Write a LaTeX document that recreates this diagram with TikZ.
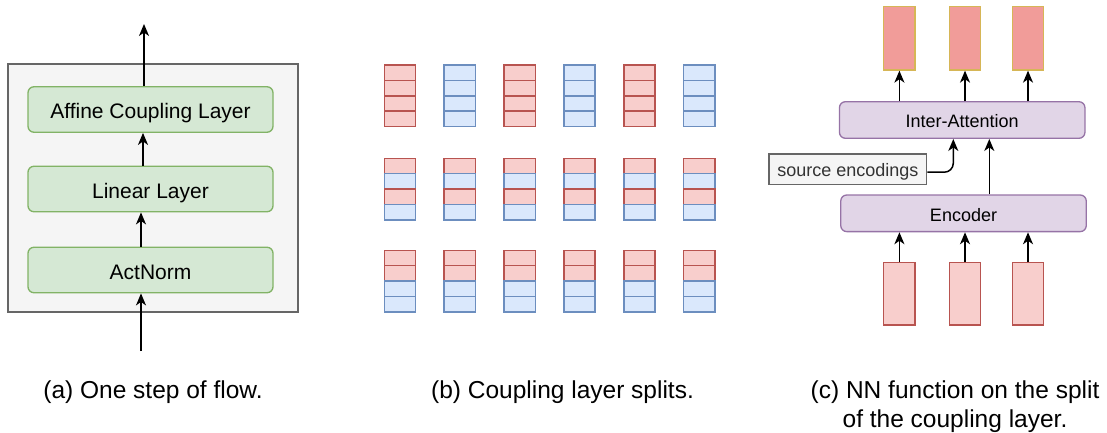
\documentclass[tikz,border=0pt]{standalone}
\usepackage{fontspec}
\setmainfont{Liberation Sans}
\usetikzlibrary{arrows.meta}
\definecolor{grayfill}{HTML}{F5F5F5}
\definecolor{graystroke}{HTML}{666666}
\definecolor{greenfill}{HTML}{D5E8D4}
\definecolor{greenstroke}{HTML}{82B366}
\definecolor{redfill}{HTML}{F8CECC}
\definecolor{redstroke}{HTML}{B85450}
\definecolor{bluefill}{HTML}{DAE8FC}
\definecolor{bluestroke}{HTML}{6C8EBF}
\definecolor{outfill}{HTML}{F19C99}
\definecolor{outstroke}{HTML}{D6B656}
\definecolor{purplefill}{HTML}{E1D5E7}
\definecolor{purplestroke}{HTML}{9673A6}
\definecolor{srctext}{HTML}{333333}
\tikzset{
  arr/.style={draw=black, line width=1.5pt, -{Stealth[length=12pt,width=10pt,inset=3.5pt]}},
  greenbox/.style={draw=greenstroke, fill=greenfill, line width=1.3pt, rounded corners=6pt,
    minimum width=245pt, minimum height=45.5pt, inner sep=0pt, text height=20pt, text depth=2pt,
    font=\fontsize{21}{25}\selectfont},
  purplebox/.style={draw=purplestroke, fill=purplefill, line width=1.3pt, rounded corners=6pt,
    minimum width=245.5pt, minimum height=36.6pt, inner sep=0pt, text height=17pt, text depth=1.4pt,
    font=\fontsize{18}{22}\selectfont},
  inrect/.style={draw=redstroke, fill=redfill, line width=1.3pt, minimum width=31.3pt,
    minimum height=62.7pt, inner sep=0pt},
  outrect/.style={draw=outstroke, fill=outfill, line width=1.3pt, minimum width=31.3pt,
    minimum height=63.3pt, inner sep=0pt},
  caption/.style={anchor=base, font=\fontsize{24.5}{29}\selectfont, align=center},
  redcell/.style={draw=redstroke, fill=redfill, line width=1.6pt},
  bluecell/.style={draw=bluestroke, fill=bluefill, line width=1.6pt},
}
\begin{document}
\begin{tikzpicture}[x=1pt,y=-1pt]
\useasboundingbox (0,0) rectangle (1107,432);
% ---------- panel (a)
\node[draw=graystroke, fill=grayfill, line width=1.3pt, minimum width=290pt, minimum height=248pt, inner sep=0pt] (bga) at (153,188) {};
\node[greenbox] (aff) at (150.5,109.5) {Affine Coupling Layer};
\node[greenbox] (lin) at (150.5,189) {Linear Layer};
\node[greenbox] (act) at (150.5,270) {ActNorm};
\coordinate (aout) at (144,24);
\coordinate (ain) at (141,351);
\coordinate (amid1) at (143,0);
\coordinate (amid2) at (141,0);
\draw[arr] (aff.north -| aout) -- (aout);
\draw[arr] (lin.north -| amid1) -- (aff.south -| amid1);
\draw[arr] (act.north -| amid2) -- (lin.south -| amid2);
\draw[arr] (ain) -- (act.south -| ain);
\node[caption] (capa) at (153,398) {(a) One step of flow.};
% ---------- panel (b)
\def\cw{31.3}
\def\ch{15.35}
% row 1: alternating columns
\foreach \i in {0,...,5}{
  \pgfmathsetmacro{\xl}{384.3+59.85*\i}
  \pgfmathtruncatemacro{\odd}{mod(\i,2)}
  \ifnum\odd=0 \def\cs{redcell}\else\def\cs{bluecell}\fi
  \foreach \k in {0,...,3}{
    \draw[\cs] (\xl,65+\k*\ch) rectangle ++(\cw,\ch);
  }
}
% row 2: alternating cells
\foreach \i in {0,...,5}{
  \pgfmathsetmacro{\xl}{384.3+59.85*\i}
  \draw[redcell] (\xl,158.3) rectangle ++(\cw,\ch);
  \draw[bluecell] (\xl,158.3+\ch) rectangle ++(\cw,\ch);
  \draw[redcell] (\xl,158.3+2*\ch) rectangle ++(\cw,\ch);
  \draw[bluecell] (\xl,158.3+3*\ch) rectangle ++(\cw,\ch);
}
% row 3: halves
\foreach \i in {0,...,5}{
  \pgfmathsetmacro{\xl}{384.3+59.85*\i}
  \draw[redcell] (\xl,250.3) rectangle ++(\cw,\ch);
  \draw[redcell] (\xl,250.3+\ch) rectangle ++(\cw,\ch);
  \draw[bluecell] (\xl,250.3+2*\ch) rectangle ++(\cw,\ch);
  \draw[bluecell] (\xl,250.3+3*\ch) rectangle ++(\cw,\ch);
}
\node[caption] (capb) at (562.5,398) {(b) Coupling layer splits.};
% ---------- panel (c)
\node[outrect] (o1) at (899.4,38.35) {};
\node[outrect] (o2) at (965,38.35) {};
\node[outrect] (o3) at (1028,38.35) {};
\node[purplebox] (inter) at (962.2,120) {Inter-Attention};
\node[purplebox] (enc) at (963.5,213.3) {Encoder};
\node[inrect] (i1) at (899.4,293.7) {};
\node[inrect] (i2) at (965,293.7) {};
\node[inrect] (i3) at (1028,293.7) {};
\node[draw=graystroke, fill=grayfill, line width=1.3pt, minimum width=157.7pt, minimum height=30.3pt, inner sep=0pt, text=srctext, text height=15pt, text depth=1.4pt, font=\fontsize{18}{22}\selectfont] (src) at (847.9,169.2) {source encodings};
\foreach \n in {1,2,3}{
  \draw[arr] (i\n.north) -- (i\n.north |- enc.south);
  \draw[arr] (o\n.south |- inter.north) -- (o\n.south);
}
\coordinate (encup) at (989.3,0);
\coordinate (srcup) at (953.3,0);
\draw[arr] (enc.north -| encup) -- (inter.south -| encup);
\draw[arr, rounded corners=9pt] ([yshift=-3pt]src.east) -| (inter.south -| srcup);
\node[caption] (capc) at (955,427) {(c) NN function on the split\\of the coupling layer.};
\end{tikzpicture}
\end{document}
